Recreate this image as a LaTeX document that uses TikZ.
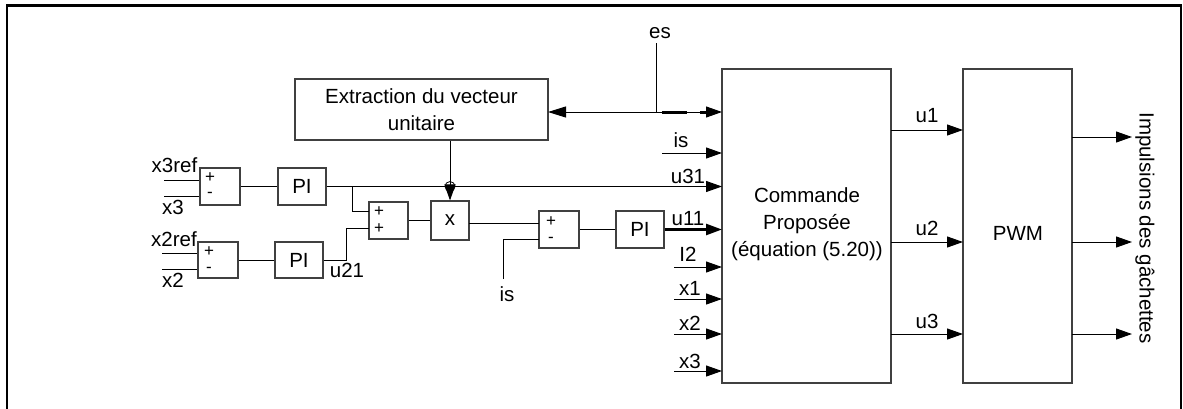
\documentclass[tikz,border=0pt]{standalone}
\usepackage{fontspec}
\setmainfont{Liberation Sans}
\usetikzlibrary{arrows.meta}
\newcommand{\dgfont}{\fontsize{20.5}{27}\selectfont}
\newcommand{\sgfont}{\fontsize{17}{20}\selectfont}
\tikzset{
  blk/.style={draw=black!75, line width=1.1pt, inner sep=0pt, font=\dgfont, align=center},
  ln/.style={line width=1pt},
  tip/.style={-{Triangle[length=16pt,width=11pt]}},
  arr/.style={ln, tip},
  lbl/.style={inner sep=0pt, font=\dgfont, anchor=base},
  sgn/.style={inner sep=0pt, font=\sgfont},
}
\begin{document}
\begin{tikzpicture}[x=1pt,y=-1pt]
\useasboundingbox (0,0) rectangle (1183,408);
% frame
\draw[line width=2.7pt] (7,420) -- (7,5.7) -- (1181,5.7) -- (1181,420);

% blocks
\node[blk, minimum width=253pt, minimum height=61pt] (ext) at (421.5,109.5) {Extraction du vecteur\\unitaire};
\node[blk, minimum width=40pt, minimum height=37pt] (s1) at (220,186.5) {};
\node[blk, minimum width=48pt, minimum height=37pt] (pi1) at (302,186.5) {PI};
\node[blk, minimum width=40pt, minimum height=36pt] (s4) at (218,260) {};
\node[blk, minimum width=48pt, minimum height=36pt] (pi2) at (299,260) {PI};
\node[blk, minimum width=39pt, minimum height=37pt] (s2) at (388.5,220.5) {};
\node[blk, minimum width=38pt, minimum height=39pt] (mul) at (450,220.5) {x};
\node[blk, minimum width=40pt, minimum height=37pt] (s3) at (559,229.5) {};
\node[blk, minimum width=48pt, minimum height=37pt] (pi3) at (640,229.5) {PI};
\node[blk, minimum width=169pt, minimum height=314pt] (cmd) at (806.5,226) {};
\node[inner sep=0pt, font=\dgfont, align=center] (cmdt) at (807,224) {Commande\\Propos\'ee\\(\'equation (5.20))};
\node[blk, minimum width=109pt, minimum height=314pt] (pwm) at (1017.5,226) {};
\node[inner sep=0pt, font=\dgfont] (pwmt) at (1018,233) {PWM};
\node[inner sep=0pt, font=\dgfont, rotate=-90] (imp) at (1145,228) {Impulsions des g\^achettes};

% signs
\node[sgn] (s1a) at (210,178) {+};
\node[sgn] (s1b) at (210,195) {-};
\node[sgn] (s4a) at (209,252) {+};
\node[sgn] (s4b) at (209,270) {-};
\node[sgn] (s2a) at (379,212) {+};
\node[sgn] (s2b) at (379,229) {+};
\node[sgn] (s3a) at (551,222) {+};
\node[sgn] (s3b) at (551,240) {-};

% coordinates
\coordinate (x3refp) at (164,180);
\coordinate (x3p) at (164,196);
\coordinate (x2refp) at (162,253);
\coordinate (x2p) at (162,269);
\coordinate (j1) at (352,186.5);
\coordinate (s2i1) at (369,211);
\coordinate (b1) at (346,260);
\coordinate (b2) at (346,228);
\coordinate (s2i2) at (369,228);
\coordinate (m1) at (469,223);
\coordinate (s3i1) at (539,223);
\coordinate (isb) at (503,279);
\coordinate (isc) at (503,239);
\coordinate (s3i2) at (539,239);
\coordinate (es) at (656,43);
\coordinate (esj) at (656,112);
\coordinate (extr) at (548,112);
\coordinate (cin1) at (722,112);
\coordinate (iss) at (662,153);
\coordinate (cin2) at (722,153);
\coordinate (cin3) at (722,186.5);
\coordinate (cin4) at (722,229.5);
\coordinate (i2s) at (674,267);
\coordinate (cin5) at (722,267);
\coordinate (x1s) at (674,299);
\coordinate (cin6) at (722,299);
\coordinate (x2s) at (674,334);
\coordinate (cin7) at (722,334);
\coordinate (x3s) at (674,371);
\coordinate (cin8) at (722,371);
\coordinate (co1) at (891,130);
\coordinate (pi1in) at (963,130);
\coordinate (co2) at (891,242);
\coordinate (pi2in) at (963,242);
\coordinate (co3) at (891,334);
\coordinate (pi3in) at (963,334);
\coordinate (po1) at (1072,137);
\coordinate (pe1) at (1132,137);
\coordinate (po2) at (1072,242);
\coordinate (pe2) at (1132,242);
\coordinate (po3) at (1072,334);
\coordinate (pe3) at (1132,334);
\coordinate (cross) at (450,186.5);

% left inputs
\draw[ln] (x3refp) -- (s1.west |- x3refp);
\draw[ln] (x3p) -- (s1.west |- x3p);
\draw[ln] (x2refp) -- (s4.west |- x2refp);
\draw[ln] (x2p) -- (s4.west |- x2p);
\draw[ln] (s1.east) -- (pi1.west);
\draw[ln] (s4.east) -- (pi2.west);
% u31
\draw[arr] (pi1.east) -- (cin3);
\draw[ln] (j1) |- (s2i1);
\draw[ln] (pi2.east) -- (b1) -- (b2) -- (s2i2);
\draw[ln] (s2.east) -- (mul.west);
\draw[ln] (m1) -- (s3i1);
\draw[ln] (isb) -- (isc) -- (s3i2);
\draw[ln] (s3.east) -- (pi3.west);
\draw[line width=2.6pt, -{Triangle[length=16pt,width=11pt]}] (pi3.east) -- (cin4);
% extraction -> multiplier
\draw[line width=0.8pt] (cross) circle (5pt);
\draw[arr] (ext.south -| mul.north) -- (mul.north);
% es
\draw[ln] (es) -- (esj);
\draw[ln, {Triangle[length=18pt,width=11pt]}-{Triangle[length=16pt,width=11pt]}] (extr) -- (cin1);
\draw[line width=3pt] (662,112) -- (687,112);
\draw[line width=3pt] (700,112) -- (708,112);
% other inputs
\draw[arr] (iss) -- (cin2);
\draw[arr] (i2s) -- (cin5);
\draw[arr] (x1s) -- (cin6);
\draw[arr] (x2s) -- (cin7);
\draw[arr] (x3s) -- (cin8);
% outputs
\draw[arr] (co1) -- (pi1in);
\draw[arr] (co2) -- (pi2in);
\draw[arr] (co3) -- (pi3in);
\draw[arr] (po1) -- (pe1);
\draw[arr] (po2) -- (pe2);
\draw[arr] (po3) -- (pe3);

% labels
\node[lbl] (lx3ref) at (174.5,172) {x3ref};
\node[lbl] (lx3) at (173,214) {x3};
\node[lbl] (lx2ref) at (174,246) {x2ref};
\node[lbl] (lx2) at (173,287) {x2};
\node[lbl] (lu21) at (347,277) {u21};
\node[lbl] (les) at (660,38) {es};
\node[lbl] (lis1) at (681,147) {is};
\node[lbl] (lu31) at (688,183) {u31};
\node[lbl] (lu11) at (688,225) {u11};
\node[lbl] (li2) at (688,261) {I2};
\node[lbl] (lxx1) at (690,295) {x1};
\node[lbl] (lxx2) at (690,330) {x2};
\node[lbl] (lxx3) at (690,368) {x3};
\node[lbl] (lis2) at (507,301) {is};
\node[lbl] (lu1) at (927,122) {u1};
\node[lbl] (lu2) at (927,235) {u2};
\node[lbl] (lu3) at (927,328) {u3};
\end{tikzpicture}
\end{document}
